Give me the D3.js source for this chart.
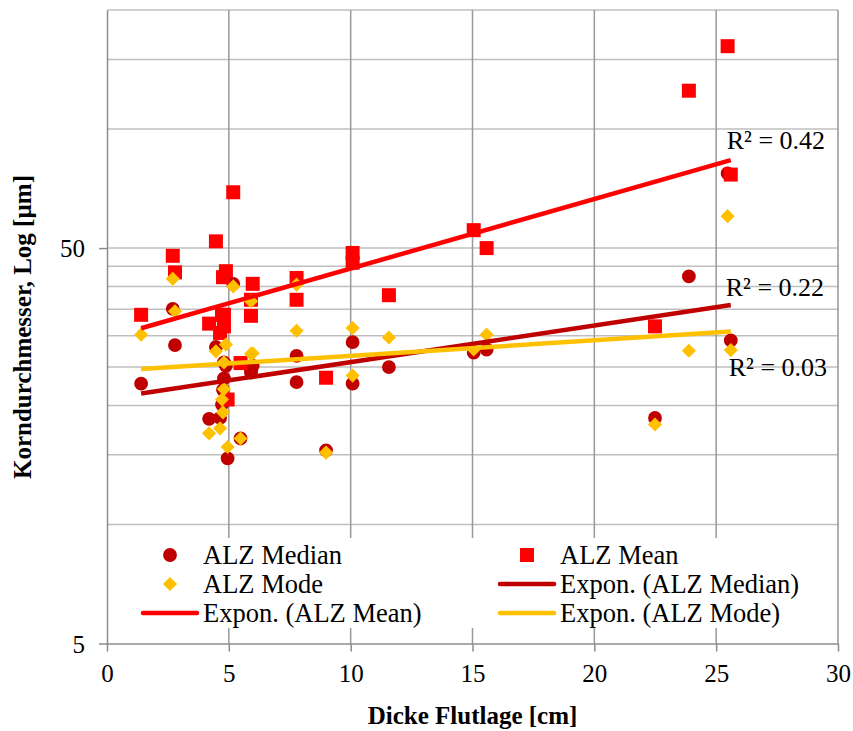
<!DOCTYPE html>
<html>
<head>
<meta charset="utf-8">
<script src="https://cdn.jsdelivr.net/npm/d3@7"></script>
<style>
  body { margin: 0; background: #fff; }
  text { font-family: "Liberation Serif", "Times New Roman", serif; fill: #000; }
</style>
</head>
<body>
<svg width="853" height="731"></svg>
<script>
// Dicke Flutlage [cm] per sample
var thickness = [1.40, 2.70, 2.79, 4.19, 4.47, 4.64, 4.72, 4.76, 4.80, 4.88, 4.80, 4.95, 5.18, 5.48,
                 5.91, 5.98, 5.91, 7.78, 7.78, 8.99, 10.08, 10.08, 11.57, 15.05, 15.58, 22.49, 23.88, 25.47, 25.60];
// grain size [µm]
var median = [22.7, 35.1, 28.4, 18.5, 28.1, 18.6, 20.1, 21.9, 23.4, 25.2, 25.7, 14.7, 40.6, 16.5,
              24.2, 25.2, 24.5, 26.7, 22.9, 15.4, 28.9, 22.7, 25.0, 27.2, 27.7, 18.6, 42.4, 77.2, 29.2];
var mean   = [33.9, 47.8, 43.4, 32.2, 52.0, 30.5, 33.9, 42.2, 31.7, 43.7, 33.9, 20.7, 69.2, 25.6,
              37.0, 40.6, 33.7, 42.0, 37.0, 23.5, 48.6, 45.9, 38.0, 55.5, 50.0, 31.7, 125, 162, 76.7];
var mode   = [30.2, 41.8, 34.6, 17.0, 27.4, 17.5, 20.7, 19.2, 22.0, 28.5, 25.7, 15.7, 40.0, 16.5,
              36.7, 27.1, 27.0, 40.4, 30.9, 15.2, 31.4, 23.8, 29.7, 27.7, 30.2, 17.9, 27.5, 60.2, 27.6];

var xTicks = [0, 5, 10, 15, 20, 25, 30];
var yTicks = [5, 50];
var yGrid = [10, 15, 20, 25, 30, 35, 40, 45, 50, 100, 150, 200];
var r2Labels = ["R² = 0.22", "R² = 0.42", "R² = 0.03"];

var svg = d3.select("svg");
var margin = {left: 107, right: 15, top: 10, bottom: 87.5};
var width = 853, height = 731;
var serif = "Liberation Serif, Times New Roman, serif";

var x = d3.scaleLinear().domain([0, 30]).range([margin.left, width - margin.right]);
var y = d3.scaleLog().domain([5, 200]).range([height - margin.bottom, margin.top]);

var colors = ["#C00000", "#FF0000", "#FFC000"];
var symbols = [d3.symbolCircle, d3.symbolSquare, d3.symbolSquare];
var sizes = [150, 196, 100];
var rot = [0, 0, 45];
var values = [median, mean, mode];

// gridlines
svg.append("g").selectAll("line").data(yGrid).enter().append("line")
  .attr("x1", x(0)).attr("x2", x(30))
  .attr("y1", function(d) { return y(d); }).attr("y2", function(d) { return y(d); })
  .attr("stroke", "#BFBFBF").attr("stroke-width", 1.5);

svg.append("g").selectAll("line").data(xTicks.slice(1)).enter().append("line")
  .attr("x1", function(d) { return x(d); }).attr("x2", function(d) { return x(d); })
  .attr("y1", y(200)).attr("y2", y(5))
  .attr("stroke", "#999999").attr("stroke-width", 1.5);

// axes
var xAxis = svg.append("g")
  .attr("transform", "translate(0," + y(5) + ")")
  .call(d3.axisBottom(x).tickValues(xTicks).tickSize(8).tickSizeOuter(0).tickPadding(8));
var yAxis = svg.append("g")
  .attr("transform", "translate(" + x(0) + ",0)")
  .call(d3.axisLeft(y).tickValues(yTicks).tickFormat(d3.format("d")).tickSize(8).tickSizeOuter(0).tickPadding(14));

[xAxis, yAxis].forEach(function(a) {
  a.attr("font-family", serif);
  a.select(".domain").attr("stroke", "#8C8C8C").attr("stroke-width", 1.5);
  a.selectAll(".tick line").attr("stroke", "#8C8C8C").attr("stroke-width", 1.5);
  a.selectAll(".tick text").style("font-size", "25px").style("font-family", serif);
});
xAxis.selectAll(".tick text").attr("dy", "0.9em");
yAxis.selectAll(".tick text").attr("dy", "0.35em");

// exponential trend: ln(y) = ln(a) + b x
function expFit(xs, ys) {
  var n = xs.length, sx = 0, sy = 0, sxx = 0, sxy = 0;
  for (var i = 0; i < n; i++) {
    var ly = Math.log(ys[i]);
    sx += xs[i]; sy += ly; sxx += xs[i] * xs[i]; sxy += xs[i] * ly;
  }
  var b = (n * sxy - sx * sy) / (n * sxx - sx * sx);
  var a = Math.exp((sy - b * sx) / n);
  return function(t) { return a * Math.exp(b * t); };
}

// markers
values.forEach(function(vals, k) {
  svg.append("g").selectAll("path").data(vals).enter().append("path")
    .attr("d", d3.symbol().type(symbols[k]).size(sizes[k]))
    .attr("transform", function(d, i) {
      return "translate(" + x(thickness[i]) + "," + y(d) + ") rotate(" + rot[k] + ")";
    })
    .attr("fill", colors[k]);
});

// trendlines + R² labels
var xMin = d3.min(thickness), xMax = d3.max(thickness);
var labelOffsets = [[-5, -9], [-4, -11], [-2, 44]];
values.forEach(function(vals, k) {
  var f = expFit(thickness, vals);
  var pts = [xMin, xMax].map(function(t) { return [x(t), y(f(t))]; });
  svg.append("path")
    .attr("d", d3.line()(pts))
    .attr("stroke", colors[k]).attr("stroke-width", 4.5).attr("fill", "none");
  svg.append("text")
    .attr("x", pts[1][0] + labelOffsets[k][0])
    .attr("y", pts[1][1] + labelOffsets[k][1])
    .style("font-size", "26px").style("font-family", serif)
    .text(r2Labels[k]);
});

// legend
var legend = svg.append("g");
legend.append("rect")
  .attr("x", 135).attr("y", 538).attr("width", 700).attr("height", 90)
  .attr("fill", "#fff");

var legendItems = [
  {label: "ALZ Median", k: 0, type: "marker", col: 0, row: 0},
  {label: "ALZ Mean", k: 1, type: "marker", col: 1, row: 0},
  {label: "ALZ Mode", k: 2, type: "marker", col: 0, row: 1},
  {label: "Expon. (ALZ Median)", k: 0, type: "line", col: 1, row: 1},
  {label: "Expon. (ALZ Mean)", k: 1, type: "line", col: 0, row: 2},
  {label: "Expon. (ALZ Mode)", k: 2, type: "line", col: 1, row: 2}
];
var colX = [170, 527], rowY = [555, 584, 613];

legendItems.forEach(function(it) {
  var cx = colX[it.col], cy = rowY[it.row];
  if (it.type === "marker") {
    legend.append("path")
      .attr("d", d3.symbol().type(symbols[it.k]).size(sizes[it.k]))
      .attr("transform", "translate(" + cx + "," + cy + ") rotate(" + rot[it.k] + ")")
      .attr("fill", colors[it.k]);
  } else {
    legend.append("line")
      .attr("x1", cx - 27).attr("x2", cx + 27)
      .attr("y1", cy).attr("y2", cy)
      .attr("stroke", colors[it.k]).attr("stroke-width", 4.5).attr("stroke-linecap", "round");
  }
  legend.append("text")
    .attr("x", cx + 33).attr("y", cy + 9)
    .style("font-size", "26.5px").style("font-family", serif)
    .text(it.label);
});

// axis titles
svg.append("text")
  .attr("x", (x(0) + x(30)) / 2).attr("y", 724)
  .attr("text-anchor", "middle")
  .style("font-size", "25px").style("font-weight", "bold").style("font-family", serif)
  .text("Dicke Flutlage [cm]");

svg.append("text")
  .attr("transform", "translate(31," + 327 + ") rotate(-90)")
  .attr("text-anchor", "middle")
  .style("font-size", "25px").style("font-weight", "bold").style("font-family", serif)
  .text("Korndurchmesser, Log [µm]");
</script>
</body>
</html>
